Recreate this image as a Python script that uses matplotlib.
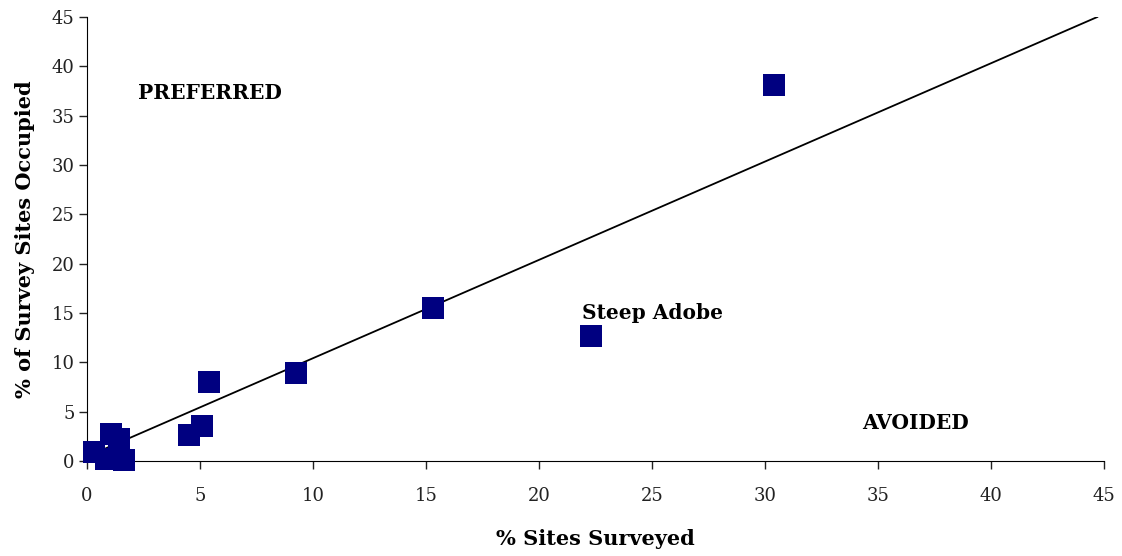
import matplotlib
matplotlib.use('Agg')
import matplotlib.pyplot as plt

# % sites surveyed vs % of survey sites occupied, per habitat type
pct_surveyed = [30.4, 22.3, 15.3, 9.25, 5.4, 5.07, 4.5, 1.05, 1.42, 0.31, 0.84, 1.62]
pct_occupied = [38.1, 12.7, 15.5, 8.9, 8.0, 3.5, 2.6, 2.74, 2.23, 0.91, 0.2, 0.1]

# 1:1 reference line
line_x = [0.0, 44.7]
line_y = [0.45, 45.0]

xticks = list(range(0, 50, 5))
yticks = list(range(0, 50, 5))

plt.rcParams['font.family'] = ['DejaVu Serif']

fig = plt.figure(figsize=(11.22, 5.56), dpi=100)
ax = fig.add_axes([0.0775, 0.1709, 0.9065, 0.7985])

ax.plot(line_x, line_y, color='black', lw=1.3, zorder=2)
ax.plot(pct_surveyed, pct_occupied, linestyle='none', marker='s',
        markersize=15.8, markeredgewidth=0, color='#000080', zorder=3,
        clip_on=False)

ax.set_xlim(0, 45)
ax.set_ylim(0, 45)
ax.set_xticks(xticks)
ax.set_yticks(yticks)
ax.spines['top'].set_visible(False)
ax.spines['right'].set_visible(False)
ax.tick_params(direction='out', length=6, width=1, labelsize=13, pad=13,
               colors='#222222')
ax.tick_params(axis='y', pad=3)

ax.set_xlabel('% Sites Surveyed', fontsize=15, fontweight='bold', labelpad=17)
ax.set_ylabel('% of Survey Sites Occupied', fontsize=15, fontweight='bold',
              labelpad=12)

ax.text(2.25, 37.3, 'PREFERRED', fontsize=14.5, fontweight='bold', va='center')
ax.text(21.9, 15.0, 'Steep Adobe', fontsize=14.5, fontweight='bold', va='center')
ax.text(34.3, 3.9, 'AVOIDED', fontsize=14.5, fontweight='bold', va='center')

fig.savefig('out.png', dpi=100)
